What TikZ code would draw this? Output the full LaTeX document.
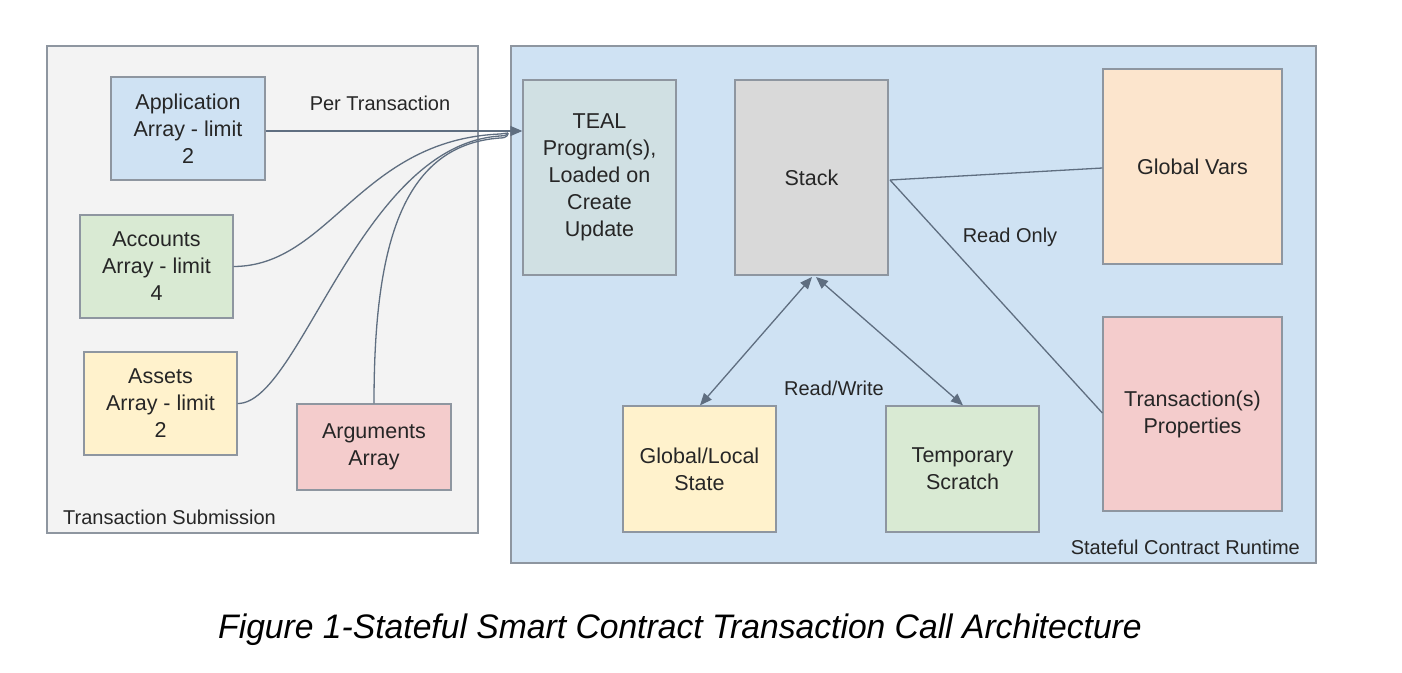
\documentclass[tikz,border=0pt]{standalone}
\usepackage{fontspec}
\setmainfont{Liberation Sans}
\usepackage{graphicx}
\usetikzlibrary{arrows.meta}
\definecolor{boxline}{HTML}{8E96A0}
\definecolor{conn}{HTML}{5F6E80}
\definecolor{txt}{HTML}{262626}
\definecolor{cblue}{HTML}{CFE2F3}
\definecolor{cgreen}{HTML}{D9EAD3}
\definecolor{cyellow}{HTML}{FFF2CC}
\definecolor{cred}{HTML}{F4CCCC}
\definecolor{cteal}{HTML}{D0E0E3}
\definecolor{cgray}{HTML}{D9D9D9}
\definecolor{corange}{HTML}{FCE5CD}
\definecolor{cpanel}{HTML}{F3F3F3}
\begin{document}
\begin{tikzpicture}[x=1pt,y=-1pt,
  box/.style={draw=boxline, line width=1.3pt, align=center, inner sep=0pt, text=txt,
    font=\fontsize{21.5}{27}\selectfont},
  panel/.style={draw=boxline, line width=1.3pt},
  lbl/.style={text=txt, inner sep=0pt, font=\fontsize{20}{22}\selectfont},
  conline/.style={draw=conn, line width=1.3pt},
  tip/.style={-{Triangle[length=12pt,width=10pt]}},
  dtip/.style={{Triangle[length=12pt,width=10pt]}-{Triangle[length=12pt,width=10pt]}}
]
\useasboundingbox (0,0) rectangle (1402,672);
\fill[white] (0,0) rectangle (1402,672);
% panels
\draw[panel, fill=cpanel] (47,46) rectangle (478,533);
\draw[panel, fill=cblue] (511,46) rectangle (1316,563);
\node[lbl, anchor=west] (tsub) at (63,517) {Transaction Submission};
\node[lbl, anchor=east] (scr) at (1300,547) {Stateful Contract Runtime};
% left boxes
\node[box, fill=cblue, minimum width=154pt, minimum height=103pt] (app) at (188,128.5) {Application\\Array - limit\\2};
\node[box, fill=cgreen, minimum width=153pt, minimum height=103pt] (acc) at (156.5,266.5) {Accounts\\Array - limit\\4};
\node[box, fill=cyellow, minimum width=153pt, minimum height=103pt] (ast) at (160.5,403.5) {Assets\\Array - limit\\2};
\node[box, fill=cred, minimum width=154pt, minimum height=86pt] (arg) at (374,447) {Arguments\\Array};
% right boxes
\node[box, fill=cteal, minimum width=153pt, minimum height=195pt] (teal) at (599.5,177.5) {TEAL\\Program(s),\\Loaded on\\Create\\Update};
\node[box, fill=cgray, minimum width=153pt, minimum height=195pt] (stack) at (811.5,177.5) {Stack};
\node[box, fill=corange, minimum width=179pt, minimum height=195pt] (gv) at (1192.5,166.5) {Global Vars};
\node[box, fill=cred, minimum width=179pt, minimum height=194pt] (tp) at (1192.5,414) {Transaction(s)\\Properties};
\node[box, fill=cyellow, minimum width=153pt, minimum height=126pt] (gls) at (699.5,469) {Global/Local\\State};
\node[box, fill=cgreen, minimum width=153pt, minimum height=126pt] (tmp) at (962.5,469) {Temporary\\Scratch};
% connectors
\coordinate (j1) at (500,134);
\coordinate (j2) at (500,136);
\coordinate (j3) at (500,138);
\draw[conline, tip] (app.east |- 0,131) -- (teal.west |- 0,131);
\node[lbl, anchor=south] (pt) at (380,111) {Per Transaction};
\draw[conline] (acc.east) .. controls (330,266) and (360,140) .. (j1);
\draw[conline] (ast.east) .. controls (300,404) and (360,145) .. (j2);
\draw[conline] (arg.north) .. controls (374,250) and (400,145) .. (j3);
\draw[conline] (j1) -- (508,133);
\draw[conline] (j2) .. controls (506,136) and (508,134) .. (508,133);
\draw[conline] (j3) .. controls (508,138) and (508,134) .. (508,133);
\coordinate (sr) at (890,180);
\draw[conline] (sr) -- (gv.west |- 0,168);
\draw[conline] (sr) -- (tp.west |- 0,413);
\node[lbl] (ro) at (1010,237) {Read Only};
\coordinate (sb1) at (812,277);
\coordinate (sb2) at (816,277);
\draw[conline, dtip] (sb1) -- (gls.north -| 700,0);
\draw[conline, dtip] (sb2) -- (tmp.north -| 963,0);
\node[lbl] (rw) at (834,388) {Read/Write};
% caption
\node[inner sep=0pt, text=black, font=\fontsize{34}{36}\selectfont\itshape] (cap) at (680,630) {\scalebox{0.99}[1]{Figure 1-Stateful Smart Contract Transaction Call Architecture}};
\end{tikzpicture}
\end{document}
